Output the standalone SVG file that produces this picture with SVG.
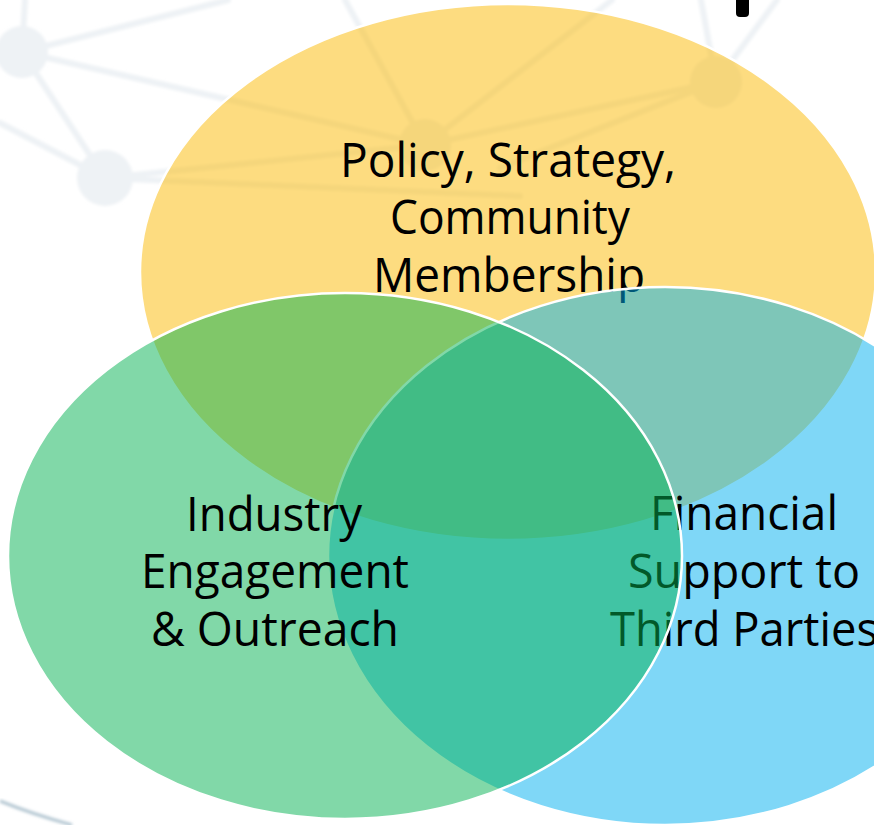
<svg xmlns="http://www.w3.org/2000/svg" width="874" height="825" viewBox="0 0 874 825">
  <style>
    .net line { stroke: #EEF2F5; stroke-width: 6; stroke-linecap: round; }
    .net circle { fill: #EEF2F5; }
    .circle { stroke: #FFFFFF; stroke-width: 2.5; }
    .label { font-family: "Open Sans", "Noto Sans", "Liberation Sans", sans-serif; font-size: 48px; fill: #000000; text-anchor: middle; }
  </style>
  <defs>
    <filter id="soft" x="-10%" y="-10%" width="120%" height="120%">
      <feGaussianBlur stdDeviation="1.5"/>
    </filter>
  </defs>
  <rect x="0" y="0" width="874" height="825" fill="#FFFFFF"/>

  <!-- faint background network -->
  <g class="net" filter="url(#soft)">
    <line x1="22" y1="52" x2="25" y2="0"/>
    <line x1="22" y1="52" x2="228" y2="0"/>
    <line x1="22" y1="52" x2="425" y2="145"/>
    <line x1="22" y1="52" x2="105" y2="178"/>
    <line x1="0" y1="123" x2="105" y2="178"/>
    <line x1="105" y1="178" x2="425" y2="145"/>
    <line x1="105" y1="178" x2="520" y2="196"/>
    <line x1="345" y1="0" x2="425" y2="145"/>
    <line x1="612" y1="0" x2="425" y2="145"/>
    <line x1="716" y1="82" x2="425" y2="145"/>
    <line x1="716" y1="82" x2="500" y2="168"/>
    <line x1="701" y1="0" x2="716" y2="82"/>
    <line x1="777" y1="0" x2="716" y2="82"/>
    <circle cx="22" cy="52" r="26"/>
    <circle cx="105" cy="178" r="28"/>
    <circle cx="716" cy="82" r="26"/>
    <circle cx="425" cy="145" r="26"/>
  </g>
  <path d="M0,801 Q32,814 72,825" fill="none" stroke="#B3C6D1" stroke-width="3" filter="url(#soft)"/>
  <path d="M736,0 H749 V13 Q749,17 745,17 H740 Q736,17 736,13 Z" fill="#000000"/>

  <g id="connectors"/>

  <g id="node-policy">
    <ellipse class="circle" cx="508" cy="272" rx="368" ry="268" fill="#FBB901" fill-opacity="0.5"/>
    <text class="label" x="508" y="177" textLength="336" lengthAdjust="spacingAndGlyphs">Policy, Strategy,</text>
    <text class="label" x="510" y="234" textLength="240" lengthAdjust="spacingAndGlyphs">Community</text>
    <text class="label" x="509" y="292" textLength="272" lengthAdjust="spacingAndGlyphs">Membership</text>
  </g>

  <g id="node-financial">
    <ellipse class="circle" cx="665" cy="556" rx="337" ry="269" fill="#00AFF0" fill-opacity="0.5"/>
    <text class="label" x="744" y="530" textLength="188" lengthAdjust="spacingAndGlyphs">Financial</text>
    <text class="label" x="744" y="588" textLength="232" lengthAdjust="spacingAndGlyphs">Support to</text>
    <text class="label" x="744" y="646" textLength="268" lengthAdjust="spacingAndGlyphs">Third Parties</text>
  </g>

  <g id="node-industry">
    <ellipse class="circle" cx="345" cy="556" rx="337" ry="263" fill="#04B152" fill-opacity="0.5"/>
    <text class="label" x="274" y="531" textLength="176" lengthAdjust="spacingAndGlyphs">Industry</text>
    <text class="label" x="275" y="588" textLength="268" lengthAdjust="spacingAndGlyphs">Engagement</text>
    <text class="label" x="275" y="646" textLength="248" lengthAdjust="spacingAndGlyphs">&amp; Outreach</text>
  </g>
</svg>
